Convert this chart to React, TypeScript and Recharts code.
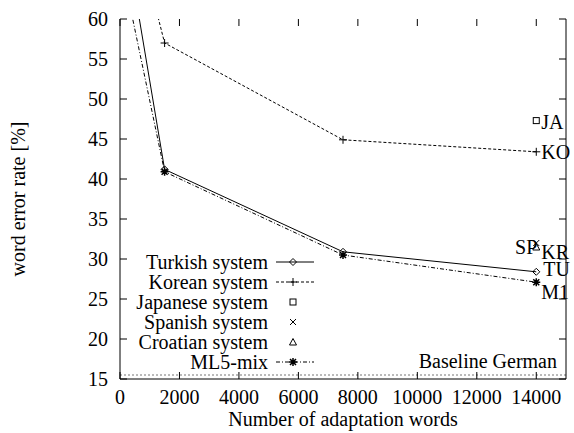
import { ComposedChart, Line, Scatter, XAxis, YAxis, ReferenceLine } from "recharts";

// adaptation word counts (x) and word error rates in % (y)
const turkishWords = [0, 1500, 7500, 14000];
const turkishWer = [74.4, 41.2, 30.9, 28.4];
const koreanWords = [0, 1500, 7500, 14000];
const koreanWer = [79, 57.0, 44.9, 43.4];
const ml5Words = [0, 1500, 7500, 14000];
const ml5Wer = [67.6, 40.9, 30.5, 27.1];
const japaneseWords = [14000];
const japaneseWer = [47.3];
const spanishWords = [14000];
const spanishWer = [32.0];
const croatianWords = [14000];
const croatianWer = [31.5];
const baselineGerman = 15.5;

const xTicks = [0, 2000, 4000, 6000, 8000, 10000, 12000, 14000];
const yTicks = [15, 20, 25, 30, 35, 40, 45, 50, 55, 60];

const W = 574;
const H = 433;
const LEFT = 120;
const RIGHT = 566;
const TOP = 19;
const BOTTOM = 379;
const FONT = "'Liberation Serif', 'Times New Roman', 'DejaVu Serif', serif";

const zip = (xs: number[], ys: number[]) => xs.map((x, i) => ({ x, y: ys[i] }));

type MarkerKind = "diamond" | "plus" | "square" | "cross" | "triangle" | "star";

function Marker({ kind, cx, cy }: { kind: MarkerKind; cx: number; cy: number }) {
  const s = { stroke: "#000", strokeWidth: 1, fill: "none" };
  if (kind === "diamond")
    return <path d={`M${cx - 3.5},${cy} L${cx},${cy - 3.5} L${cx + 3.5},${cy} L${cx},${cy + 3.5} Z`} {...s} />;
  if (kind === "plus")
    return <path d={`M${cx - 4},${cy} H${cx + 4} M${cx},${cy - 4} V${cy + 4}`} {...s} />;
  if (kind === "square") return <rect x={cx - 3} y={cy - 3} width={6} height={6} {...s} />;
  if (kind === "cross")
    return <path d={`M${cx - 3},${cy - 3} L${cx + 3},${cy + 3} M${cx - 3},${cy + 3} L${cx + 3},${cy - 3}`} {...s} />;
  if (kind === "triangle")
    return <path d={`M${cx - 3.5},${cy + 3} L${cx},${cy - 3.5} L${cx + 3.5},${cy + 3} Z`} {...s} />;
  return (
    <path
      d={`M${cx - 4},${cy} H${cx + 4} M${cx},${cy - 4} V${cy + 4} M${cx - 3},${cy - 3} L${cx + 3},${cy + 3} M${cx - 3},${cy + 3} L${cx + 3},${cy - 3}`}
      {...s}
      strokeWidth={1.5}
    />
  );
}

const series = [
  { name: "Turkish system", data: zip(turkishWords, turkishWer), marker: "diamond" as MarkerKind, dash: "", line: true, tag: "TU", dx: 7, dy: 4, anchor: "start" },
  { name: "Korean system", data: zip(koreanWords, koreanWer), marker: "plus" as MarkerKind, dash: "3 2", line: true, tag: "KO", dx: 5, dy: 7, anchor: "start" },
  { name: "Japanese system", data: zip(japaneseWords, japaneseWer), marker: "square" as MarkerKind, dash: "", line: false, tag: "JA", dx: 5, dy: 8, anchor: "start" },
  { name: "Spanish system", data: zip(spanishWords, spanishWer), marker: "cross" as MarkerKind, dash: "", line: false, tag: "SP", dx: 1, dy: 11, anchor: "end" },
  { name: "Croatian system", data: zip(croatianWords, croatianWer), marker: "triangle" as MarkerKind, dash: "", line: false, tag: "KR", dx: 5, dy: 12, anchor: "start" },
  { name: "ML5-mix", data: zip(ml5Words, ml5Wer), marker: "star" as MarkerKind, dash: "4 2 1 2", line: true, tag: "M1", dx: 5, dy: 17, anchor: "start" },
];

const textStyle = { fontFamily: FONT, fontSize: 20, fill: "#000" };

function BottomTick({ x, payload }: any) {
  return (
    <g>
      <line x1={x} x2={x} y1={BOTTOM} y2={BOTTOM - 7} stroke="#000" />
      <line x1={x} x2={x} y1={TOP} y2={TOP + 7} stroke="#000" />
      <text x={x} y={BOTTOM + 25} textAnchor="middle" style={textStyle}>
        {payload.value}
      </text>
    </g>
  );
}

function LeftTick({ y, payload }: any) {
  return (
    <g>
      <line x1={LEFT} x2={LEFT + 7} y1={y} y2={y} stroke="#000" />
      <line x1={RIGHT} x2={RIGHT - 7} y1={y} y2={y} stroke="#000" />
      <text x={108} y={y + 7} textAnchor="end" style={textStyle}>
        {payload.value}
      </text>
    </g>
  );
}

function Legend() {
  const rows = [262, 282, 302, 322, 342, 362];
  return (
    <svg width={W} height={H} style={{ position: "absolute", left: 0, top: 0, pointerEvents: "none" }}>
      {series.map((s, i) => (
        <g key={s.name}>
          <text x={268} y={rows[i] + 7} textAnchor="end" style={textStyle}>
            {s.name}
          </text>
          {s.line && <line x1={276} x2={314} y1={rows[i]} y2={rows[i]} stroke="#000" strokeDasharray={s.dash || undefined} />}
          <Marker kind={s.marker} cx={293} cy={rows[i]} />
        </g>
      ))}
    </svg>
  );
}

export default function App() {
  return (
    <div style={{ position: "relative", width: W, height: H, background: "#fff", fontFamily: FONT }}>
      <style>{`body{margin:0}`}</style>
      <ComposedChart width={W} height={H} margin={{ top: TOP, right: 0, bottom: 0, left: 0 }}>
        <XAxis
          dataKey="x"
          type="number"
          domain={[0, 15000]}
          ticks={xTicks}
          height={H - BOTTOM}
          tickLine={false}
          axisLine={{ stroke: "#000" }}
          tick={<BottomTick />}
          interval={0}
          label={{ value: "Number of adaptation words", position: "insideBottom", offset: 7, style: textStyle }}
        />
        <XAxis xAxisId="top" orientation="top" type="number" domain={[0, 15000]} height={0} tick={false} tickLine={false} axisLine={{ stroke: "#000" }} />
        <YAxis
          dataKey="y"
          type="number"
          domain={[15, 60]}
          ticks={yTicks}
          allowDataOverflow
          width={LEFT}
          tickLine={false}
          axisLine={{ stroke: "#000" }}
          tick={<LeftTick />}
          interval={0}
          label={{ value: "word error rate [%]", angle: -90, position: "insideLeft", offset: 18, style: { ...textStyle, textAnchor: "middle" } }}
        />
        <YAxis yAxisId="right" orientation="right" type="number" domain={[15, 60]} width={W - RIGHT} tick={false} tickLine={false} axisLine={{ stroke: "#000" }} />
        <ReferenceLine
          y={baselineGerman}
          stroke="#777"
          strokeDasharray="2 2"
          label={(p: any) => (
            <text x={p.viewBox.x + p.viewBox.width - 9} y={p.viewBox.y - 7} textAnchor="end" style={textStyle}>
              Baseline German
            </text>
          )}
        />
        {series.map((s) =>
          s.line ? (
            <Line
              key={s.name}
              data={s.data}
              dataKey="y"
              stroke="#000"
              strokeWidth={1}
              strokeDasharray={s.dash || undefined}
              isAnimationActive={false}
              dot={(p: any) => <Marker key={p.index} kind={s.marker} cx={p.cx} cy={p.cy} />}
              label={(p: any) =>
                p.index === s.data.length - 1 ? (
                  <text key={p.index} x={p.x + s.dx} y={p.y + s.dy} textAnchor={s.anchor} style={textStyle}>
                    {s.tag}
                  </text>
                ) : (
                  <g key={p.index} />
                )
              }
            />
          ) : (
            <Scatter
              key={s.name}
              data={s.data}
              dataKey="y"
              isAnimationActive={false}
              shape={(p: any) => (
                <g>
                  <Marker kind={s.marker} cx={p.cx} cy={p.cy} />
                  <text x={p.cx + s.dx} y={p.cy + s.dy} textAnchor={s.anchor} style={textStyle}>
                    {s.tag}
                  </text>
                </g>
              )}
            />
          )
        )}
      </ComposedChart>
      <Legend />
    </div>
  );
}
